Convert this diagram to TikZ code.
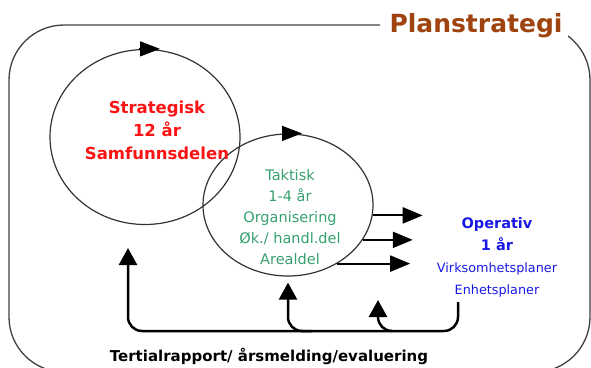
\documentclass[tikz,border=0pt]{standalone}
\usepackage{fontspec}
\setmainfont{DejaVu Sans}
\usetikzlibrary{shapes.geometric,arrows.meta,calc}

\definecolor{planbrown}{RGB}{160,68,15}
\definecolor{stratred}{RGB}{250,20,20}
\definecolor{taktgreen}{RGB}{55,160,110}
\definecolor{operblue}{RGB}{25,25,230}

\tikzset{
  ring/.style={draw=black!80, line width=1.2pt, ellipse, inner sep=0pt},
  cyctip/.style={-{Triangle[length=20pt,width=15pt]}, line width=1.2pt},
  outarrow/.style={-{Triangle[length=20pt,width=16pt]}, line width=2.2pt},
  feedback/.style={-{Triangle[length=17pt,width=18pt]}, line width=2.5pt, rounded corners=14pt},
}

\begin{document}
\begin{tikzpicture}[x=1pt,y=-1pt]
    \useasboundingbox (0,0) rectangle (591,367);

    % frame and title
    \draw[black!75, line width=1.3pt, rounded corners=55pt]
        (380,25) -- (9,25) -- (9,372) -- (590,372) -- (590,25) -- (480,25);
    \node[fill=white, inner xsep=6pt, text=planbrown, font=\bfseries\fontsize{25}{28}\selectfont] (title) at (476,26) {Planstrategi};

    % cycles
    \node[ring, minimum width=190pt, minimum height=175pt] (strat) at (145,137) {};
    \node[ring, minimum width=170pt, minimum height=142pt] (takt) at (288,205) {};
    \draw[cyctip] ([xshift=-6pt]strat.north) -- ([xshift=15pt]strat.north);
    \draw[cyctip] ([xshift=-6pt]takt.north) -- ([xshift=14pt]takt.north);

    \node[text=stratred, align=center, font=\bfseries\fontsize{16.5}{23}\selectfont] (strattxt) at (157,130)
        {Strategisk\\12 år\\Samfunnsdelen};
    \node[text=taktgreen, align=center, font=\fontsize{14.5}{21}\selectfont] (takttxt) at (290,217)
        {Taktisk\\1-4 år\\Organisering\\Øk./ handl.del\\Arealdel};
    \node[text=operblue, align=center, font=\fontsize{14.5}{22}\selectfont] (oper) at (497,257)
        {\textbf{Operativ}\\\textbf{1 år}\\{\fontsize{12.8}{22}\selectfont Virksomhetsplaner}\\{\fontsize{12.8}{22}\selectfont Enhetsplaner}};

    % to operativ
    \draw[outarrow] (takt.-7) -- ++(50,0);
    \draw[outarrow] (takt.-25) -- ++(50,0);
    \draw[outarrow] (takt.-50) -- ++(73,0);

    % feedback loop
    \coordinate (fbstart) at (458,302);
    \coordinate (fbback) at (128,248);
    \coordinate (fbsmall) at (378,300);
    \draw[feedback] (fbstart) -- (fbstart |- 0,331) -- (fbback |- 0,331) -- (fbback);
    \draw[feedback] (312,331) -| ([yshift=-6pt]takt.south);
    \draw[feedback] (392,331) -| (fbsmall);

    \node[font=\bfseries\fontsize{15}{18}\selectfont] (tert) at (269,356) {Tertialrapport/ årsmelding/evaluering};
\end{tikzpicture}
\end{document}
